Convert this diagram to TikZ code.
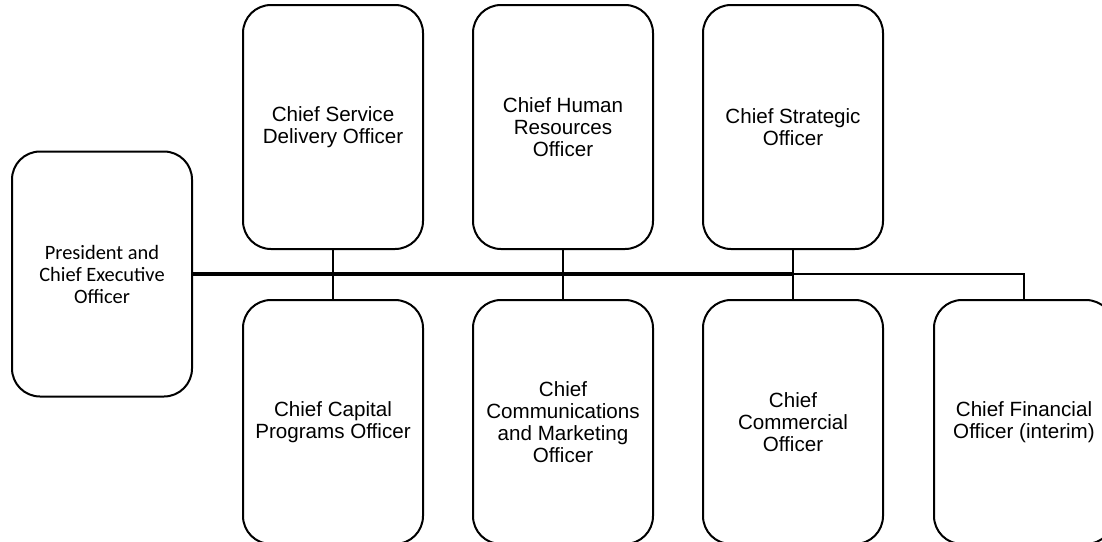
\documentclass[tikz,border=0pt]{standalone}
\usepackage{fontspec}
\setmainfont{Liberation Sans}
\newfontfamily\ceofont{Carlito}

\begin{document}
\begin{tikzpicture}[x=1pt,y=-1pt,
    post/.style={draw,line width=2pt,rounded corners=28pt,
      minimum width=180pt,minimum height=244pt,align=center,
      font=\fontsize{20.6}{21.8}\selectfont},
    bus/.style={line width=4pt},
    link/.style={line width=2.7pt}]
  \fill[white] (0,0) rectangle (1102,541);
  \useasboundingbox (0,0) rectangle (1102,541);

  \node[post,minimum height=245pt,font=\ceofont\fontsize{20.4}{22}\selectfont]
    (ceo) at (102,274) {President and\\Chief Executive\\Officer};

  % top row
  \node[post] (csdo) at (333,127) {Chief Service\\Delivery Officer};
  \node[post] (chro) at (563,127) {Chief Human\\Resources\\Officer};
  \node[post] (stro) at (793,127) {Chief Strategic\\Officer};

  % bottom row
  \node[post] (ccpo) at (333,422) {Chief Capital\\Programs Officer};
  \node[post] (ccmo) at (563,422) {Chief\\Communications\\and Marketing\\Officer};
  \node[post] (cco)  at (793,422) {Chief\\Commercial\\Officer};
  \node[post] (cfo)  at (1024,422) {Chief Financial\\Officer (interim)};

  \draw[bus] (ceo.east) -- (ceo.east -| stro.south);
  \draw[link] (ceo.east -| stro.south) -| (cfo.north);
  \foreach \a/\b in {csdo/ccpo,chro/ccmo,stro/cco}
    \draw[link] (\a.south) -- (\b.north);
\end{tikzpicture}
\end{document}
